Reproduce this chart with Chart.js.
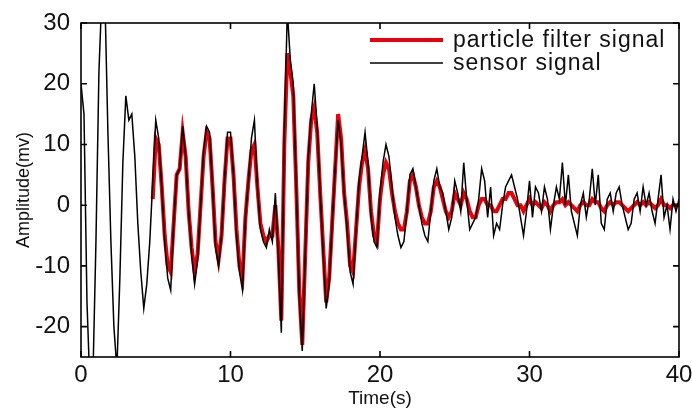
<!DOCTYPE html>
<html>
<head>
<meta charset="utf-8">
<script src="https://cdn.jsdelivr.net/npm/chart.js@4.4.0/dist/chart.umd.min.js"></script>
<style>
  html, body { margin: 0; padding: 0; background: #fff; }
</style>
</head>
<body>
<canvas id="signalChart" width="692" height="410"></canvas>
<script>
// 샘플 간격 (s) 과 축 눈금
const sampleStep = 0.2;
const xTicks = [0, 10, 20, 30, 40];
const yTicks = [-20, -10, 0, 10, 20, 30];

// sensor signal, 0 ~ 40 s (10 samples per row = 2 s)
const sensorValues = [
  20, 15, -16, -30, -28, -6, 22, 35, 34, 12,        // 0
  -6, -20, -27, -12, 7, 18, 14, 15, 8, -3,          // 2
  -11, -17, -13, -6, 4, 14, 11, 3, -6, -12,         // 4
  -14, -3, 5, 6, 13, 8, -1, -8, -13, -9,            // 6
  0, 9, 13, 12, 3, -7, -10, -5, 4, 12,              // 8
  12, 5, -5, -11, -14, -2, 4, 11, 14, 3,            // 10
  -4, -6, -7, -4, -6, 2, -8, -21, 12, 32,           // 12
  24, 20, 3, -15, -24, -8, 8, 15, 20, 13,           // 14
  2, -8, -17, -13, -3, 6, 14, 10, 2, -4,            // 16
  -11, -13, -4, 4, 8, 12, 7, -2, -6, -7,            // 18
  2, 7, 10, 8, 3, -2, -5, -7, -6, -1,               // 20
  5, 6, 3, 0, -3, -5, -6, -1, 4, 6,                 // 22
  3, 2, -1, -4, -2, 4, 2, -1, 7, 1,                 // 24
  -4, -3, -2, 1, 6, 4, -2, 3, -5, -3,               // 26
  -4, 0, 3, 4, 5, 3, 1, -2, -5, -1,                 // 28
  4, -2, 3, 2, -1, 3, 1, -4, 0, 3,                  // 30
  1, 7, 0, 5, -1, -3, -5, 0, 2, -2,                 // 32
  1, 6, 0, 5, -3, -4, 1, 2, -1, 2,                  // 34
  3, 0, -2, -4, -3, 1, 2, -1, 3, 0,                 // 36
  2, -1, -3, 1, 5, -2, 0, -4, 1, -1,                // 38
  1                                                 // 40
];

// particle filter signal, starts at 4.8 s
const filterValues = [
  null, null, null, null, null, null, null, null, null, null,   // 0
  null, null, null, null, null, null, null, null, null, null,   // 2
  null, null, null, null, 1, 11, 10, 3, -5, -10,                // 4
  -11, -3, 5, 6, 12, 8, -1, -7, -11, -8,                        // 6
  0, 8, 12, 11, 3, -6, -9, -5, 4, 11,                           // 8
  11, 5, -4, -10, -12, -2, 4, 9, 10, 3,                         // 10
  -3, -5, -6, -5, -5, 0, -7, -19, 10, 25,                       // 12
  22, 18, 3, -14, -23, -8, 7, 14, 16, 12,                       // 14
  2, -7, -16, -12, -3, 6, 15, 11, 2, -3,                        // 16
  -10, -11, -4, 3, 7, 9, 6, -1, -5, -6,                         // 18
  1, 5, 7, 6, 2, -1, -3, -4, -4, -1,                            // 20
  4, 5, 3, 0, -2, -3, -3, -1, 3, 4,                             // 22
  3, 1, -1, -2, -1, 2, 1, 0, 2, 1,                              // 24
  -1, -2, -2, 0, 1, 1, 0, 0, -1, -1,                            // 26
  0, 1, 1, 2, 2, 1, 0, 0, -1, 0,                                // 28
  1, 0, 0.5, 0, -0.5, 0.5, 0, -1, 0, 0.5,                       // 30
  0.5, 1, 0, 0.5, 0, -0.5, -1, 0, 0.5, 0,                       // 32
  0, 1, 0.5, 0.5, -0.5, -1, 0, 0.5, 0, 0.5,                     // 34
  0.5, 0, -0.5, -1, -0.5, 0, 0.5, 0, 0.5, 0,                    // 36
  0.5, 0, -0.5, 0, 1, 0, 0, -0.5, 0, 0,                         // 38
  0                                                             // 40
];

const toPoints = vals => vals.map((v, i) => ({ x: +(i * sampleStep).toFixed(1), y: v }));

// 테두리, 안쪽 눈금, 범례
const frameAndLegend = {
  id: 'frameAndLegend',
  afterDatasetsDraw(chart) {
    const { ctx, chartArea: a, scales: { x, y } } = chart;
    ctx.save();
    ctx.strokeStyle = '#000';
    ctx.lineWidth = 1.6;
    ctx.strokeRect(a.left, a.top, a.right - a.left, a.bottom - a.top);

    ctx.beginPath();
    xTicks.forEach(v => {
      const px = x.getPixelForValue(v);
      ctx.moveTo(px, a.bottom); ctx.lineTo(px, a.bottom - 6);
      ctx.moveTo(px, a.top); ctx.lineTo(px, a.top + 6);
    });
    yTicks.forEach(v => {
      const py = y.getPixelForValue(v);
      ctx.moveTo(a.left, py); ctx.lineTo(a.left + 6, py);
      ctx.moveTo(a.right, py); ctx.lineTo(a.right - 6, py);
    });
    ctx.stroke();

    // legend
    const items = [chart.data.datasets[1], chart.data.datasets[0]];
    ctx.font = '23px "Liberation Sans", Arial, sans-serif';
    ctx.letterSpacing = '1px';
    ctx.textBaseline = 'middle';
    ctx.fillStyle = '#111';
    items.forEach((ds, i) => {
      const ly = 40 + i * 23;
      ctx.beginPath();
      ctx.strokeStyle = ds.borderColor;
      ctx.lineWidth = ds.borderWidth;
      ctx.moveTo(370, ly);
      ctx.lineTo(443, ly);
      ctx.stroke();
      ctx.fillText(ds.label, 453, ly + 1);
    });
    ctx.restore();
  }
};

const tickFont = { family: '"Liberation Sans", Arial, sans-serif', size: 24 };

new Chart(document.getElementById('signalChart'), {
  type: 'line',
  data: {
    datasets: [{
      label: 'sensor signal',
      data: toPoints(sensorValues),
      borderColor: '#000',
      borderWidth: 1.5,
      pointRadius: 0,
      tension: 0,
      order: 0
    }, {
      label: 'particle filter signal',
      data: toPoints(filterValues),
      borderColor: '#e8000b',
      borderWidth: 4,
      pointRadius: 0,
      tension: 0,
      spanGaps: false,
      order: 1
    }]
  },
  options: {
    responsive: false,
    animation: false,
    layout: { padding: { top: 23, right: 13, left: 0, bottom: 0 }, autoPadding: false },
    plugins: {
      legend: { display: false },
      tooltip: { enabled: false }
    },
    scales: {
      x: {
        type: 'linear',
        min: 0,
        max: 40,
        afterBuildTicks: s => { s.ticks = xTicks.map(v => ({ value: v })); },
        afterFit: s => { s.height = 53; s.paddingLeft = 0; s.paddingRight = 0; },
        grid: { display: false, drawTicks: false },
        border: { display: false },
        ticks: { font: tickFont, color: '#111', padding: 4, maxRotation: 0 },
        title: {
          display: true,
          text: 'Time(s)',
          font: { family: '"Liberation Sans", Arial, sans-serif', size: 19 },
          color: '#111',
          padding: { top: 0, bottom: 0 }
        }
      },
      y: {
        min: -25,
        max: 30,
        afterBuildTicks: s => { s.ticks = yTicks.map(v => ({ value: v })); },
        afterFit: s => { s.width = 81; s.paddingTop = 0; s.paddingBottom = 0; },
        grid: { display: false, drawTicks: false },
        border: { display: false },
        ticks: { font: tickFont, color: '#111', padding: 11 },
        title: {
          display: true,
          text: 'Amplitude(mv)',
          font: { family: '"Liberation Sans", Arial, sans-serif', size: 18 },
          color: '#111',
          padding: { top: 13, bottom: 0 }
        }
      }
    }
  },
  plugins: [frameAndLegend]
});
</script>
</body>
</html>
